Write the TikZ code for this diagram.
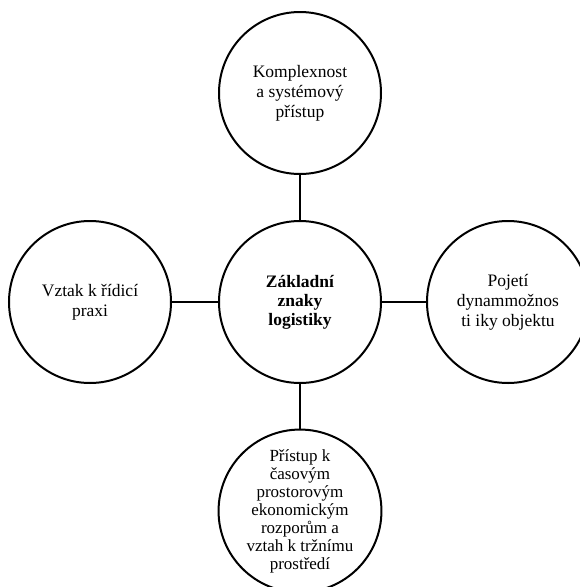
\documentclass[tikz,border=0pt]{standalone}
\usepackage{fontspec}
\setmainfont{Liberation Serif}
\begin{document}
\begin{tikzpicture}[x=1pt,y=-1pt,
  bubble/.style={circle,draw=black,line width=2pt,minimum size=162pt,inner sep=0pt,
    align=center,font=\fontsize{17.5}{20}\selectfont},
  link/.style={line width=2pt}]
\useasboundingbox (0,0) rectangle (580,587);
\clip (0,0) rectangle (580,587);
\fill[white] (0,0) rectangle (580,587);
% centre and the four surrounding topics
\node[bubble,font=\fontsize{17.5}{19}\selectfont\bfseries] (core) at (300,302) {Základní\\znaky\\logistiky};
\node[bubble] (top) at (300,93) {Komplexnost\\a systémový\\přístup};
\node[bubble] (left) at (90,302) {Vztak k řídicí\\praxi};
\node[bubble] (right) at (508,302) {Pojetí\\dynammožnos\\ti iky objektu};
\node[bubble,font=\fontsize{17}{18}\selectfont] (bottom) at (300,511) {Přístup k\\časovým\\prostorovým\\ekonomickým\\rozporům a\\vztah k tržnímu\\prostředí};
% spokes
\draw[link] (top) -- (core);
\draw[link] (left) -- (core);
\draw[link] (core) -- (right);
\draw[link] (core) -- (bottom);
\end{tikzpicture}
\end{document}
